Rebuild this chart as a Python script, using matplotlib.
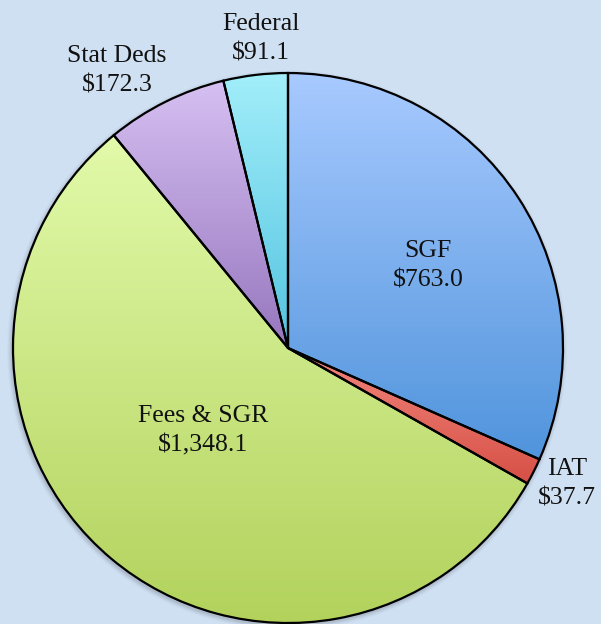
import numpy as np
import matplotlib
matplotlib.use("Agg")
import matplotlib.pyplot as plt
from matplotlib.colors import LinearSegmentedColormap

categories = ["SGF", "IAT", "Fees & SGR", "Stat Deds", "Federal"]
values = [763.0, 37.7, 1348.1, 172.3, 91.1]
value_labels = ["$763.0", "$37.7", "$1,348.1", "$172.3", "$91.1"]

# style / layout
top_colors = ["#a8caff", "#f2877d", "#e2faaa", "#d6c0f2", "#a2eefa"]
bot_colors = ["#5094dc", "#d65046", "#b2d25c", "#9676be", "#54c4e0"]
W, H = 601, 624
cx, cy, R = 288, H - 348, 275
label_pos = [(428, 266), (567, 484), (203, 431), (117, 71), (261, 39)]

fig = plt.figure(figsize=(W / 100, H / 100), dpi=100)
bg = "#cfe0f2"
fig.patch.set_facecolor(bg)
ax = fig.add_axes([0, 0, 1, 1])
ax.set_facecolor(bg)

# soft shadow
for i, a in enumerate(np.linspace(0.05, 0.015, 5)):
    sh = plt.Circle((cx - 1, cy - 2), R + 1 + i, color="black", alpha=a, lw=0, zorder=0)
    ax.add_patch(sh)

wedges, _ = ax.pie(values, startangle=90, counterclock=False, radius=R,
                   center=(cx, cy), frame=True,
                   wedgeprops=dict(edgecolor="black", linewidth=1.6, facecolor="none"))

for w, tc, bc in zip(wedges, top_colors, bot_colors):
    t1, t2 = np.deg2rad(w.theta1), np.deg2rad(w.theta2)
    ang = np.linspace(t1, t2, 200)
    xs = np.concatenate([[cx], cx + R * np.cos(ang)])
    ys = np.concatenate([[cy], cy + R * np.sin(ang)])
    x0, x1, y0, y1 = xs.min(), xs.max(), ys.min(), ys.max()
    cmap = LinearSegmentedColormap.from_list("g", [bc, tc])
    grad = np.linspace(1, 0, 256).reshape(-1, 1)
    im = ax.imshow(grad, cmap=cmap, vmin=0, vmax=1, extent=(x0, x1, y0, y1),
                   aspect="auto", origin="upper", zorder=1, interpolation="bilinear")
    im.set_clip_path(w)
    w.set_zorder(2)

for (lx, ly), c, v in zip(label_pos, categories, value_labels):
    ax.text(lx, H - ly, f"{c}\n{v}", ha="center", va="center", fontsize=18.5,
            family="Liberation Serif", color="#111111", linespacing=1.42, zorder=3)

ax.set_xlim(0, W)
ax.set_ylim(0, H)
ax.set_aspect("auto")
ax.axis("off")
fig.savefig("out.png", dpi=100, facecolor=bg)
